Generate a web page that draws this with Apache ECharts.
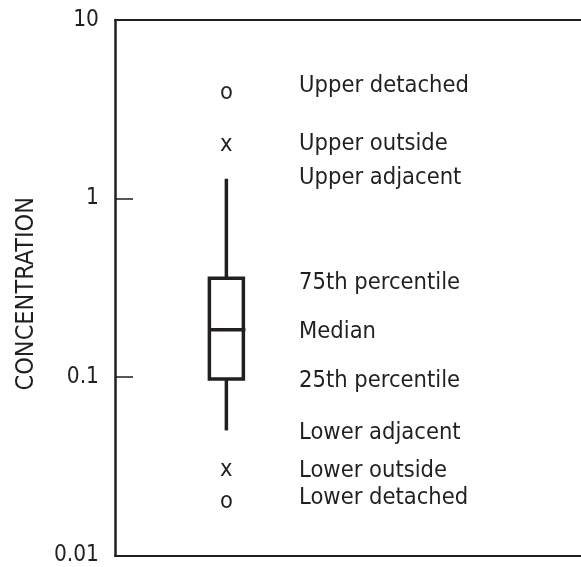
<!DOCTYPE html>
<html>
<head>
<meta charset="utf-8">
<script src="https://cdn.jsdelivr.net/npm/echarts@6/dist/echarts.min.js"></script>
<style>
html,body{margin:0;padding:0;background:#fff;}
#chart{width:581px;height:567px;}
</style>
</head>
<body>
<div id="chart"></div>
<script>
// Box statistics: lower adjacent, 25th, median, 75th, upper adjacent
const boxStats = [0.0502, 0.0974, 0.184, 0.358, 1.29];
// Outlier values and their plotting characters
const outlierValues = [3.9, 2.0, 0.030, 0.020];
const outlierSymbols = ['o', 'x', 'x', 'o'];
// Explanatory labels and the concentration level at which each is written
const statLabels = ['Upper detached', 'Upper outside', 'Upper adjacent', '75th percentile', 'Median', '25th percentile', 'Lower adjacent', 'Lower outside', 'Lower detached'];
const labelValues = [4.28, 2.01, 1.31, 0.337, 0.180, 0.0957, 0.0485, 0.0298, 0.0210];
// Axis
const yTickValues = [0.01, 0.1, 1, 10];
const yTitle = 'CONCENTRATION';

const INK = '#231f20';
const FONT = '"DejaVu Sans Condensed", sans-serif';
const BOX_X = 0.239;
const LABEL_X = 0.395;

const chart = echarts.init(document.getElementById('chart'), null, {renderer: 'canvas'});
const option = {
  animation: false,
  backgroundColor: '#fff',
  grid: {left: 115, right: 0, top: 20, bottom: 9},
  xAxis: [
    {type: 'value', min: 0, max: 1, position: 'bottom',
     axisLine: {show: true, onZero: false, lineStyle: {color: INK, width: 2}},
     axisTick: {show: false}, axisLabel: {show: false}, splitLine: {show: false}},
    {type: 'value', min: 0, max: 1, position: 'top',
     axisLine: {show: true, onZero: false, lineStyle: {color: INK, width: 2}},
     axisTick: {show: false}, axisLabel: {show: false}, splitLine: {show: false}}
  ],
  yAxis: {
    type: 'log', logBase: 10, min: 0.01, max: 10,
    name: yTitle, nameLocation: 'middle', nameRotate: 90, nameGap: 76,
    nameTextStyle: {color: INK, fontSize: 25, fontFamily: FONT, padding: [0, 12, 0, 0]},
    axisLine: {show: true, lineStyle: {color: INK, width: 2.5}},
    axisTick: {show: true, inside: true, length: 18, lineStyle: {color: INK, width: 1.5}},
    axisLabel: {color: INK, fontSize: 22.5, fontFamily: FONT, margin: 16,
      formatter: function (v) {
        for (const t of yTickValues) { if (Math.abs(v - t) / t < 1e-6) return String(t); }
        return '';
      }},
    splitLine: {show: false}
  },
  series: [
    {
      type: 'custom',
      xAxisIndex: 0,
      data: [[BOX_X].concat(boxStats)],
      renderItem: function (params, api) {
        const x = api.value(0);
        const low = api.coord([x, api.value(1)]);
        const q1 = api.coord([x, api.value(2)]);
        const med = api.coord([x, api.value(3)]);
        const q3 = api.coord([x, api.value(4)]);
        const high = api.coord([x, api.value(5)]);
        const half = 17;
        const st = {stroke: INK, lineWidth: 3.5, fill: null};
        return {type: 'group', children: [
          {type: 'line', shape: {x1: low[0], y1: low[1], x2: q1[0], y2: q1[1]}, style: st},
          {type: 'line', shape: {x1: q3[0], y1: q3[1], x2: high[0], y2: high[1]}, style: st},
          {type: 'rect', shape: {x: q3[0] - half, y: q3[1], width: 2 * half, height: q1[1] - q3[1]},
           style: {stroke: INK, lineWidth: 3.5, fill: '#fff'}},
          {type: 'line', shape: {x1: med[0] - half, y1: med[1], x2: med[0] + half + 2, y2: med[1]}, style: st}
        ]};
      }
    },
    {
      type: 'scatter',
      symbolSize: 0,
      itemStyle: {opacity: 1},
      data: outlierValues.map(v => [BOX_X, v]),
      label: {show: true, position: 'inside', color: INK, fontSize: 23.5, fontFamily: FONT,
        formatter: p => outlierSymbols[p.dataIndex]}
    },
    {
      type: 'scatter',
      symbolSize: 0,
      itemStyle: {opacity: 1},
      data: labelValues.map(v => [LABEL_X, v]),
      label: {show: true, position: 'right', distance: 0, color: INK, fontSize: 23.5, fontFamily: FONT,
        formatter: p => statLabels[p.dataIndex]}
    }
  ]
};
chart.setOption(option);
</script>
</body>
</html>
